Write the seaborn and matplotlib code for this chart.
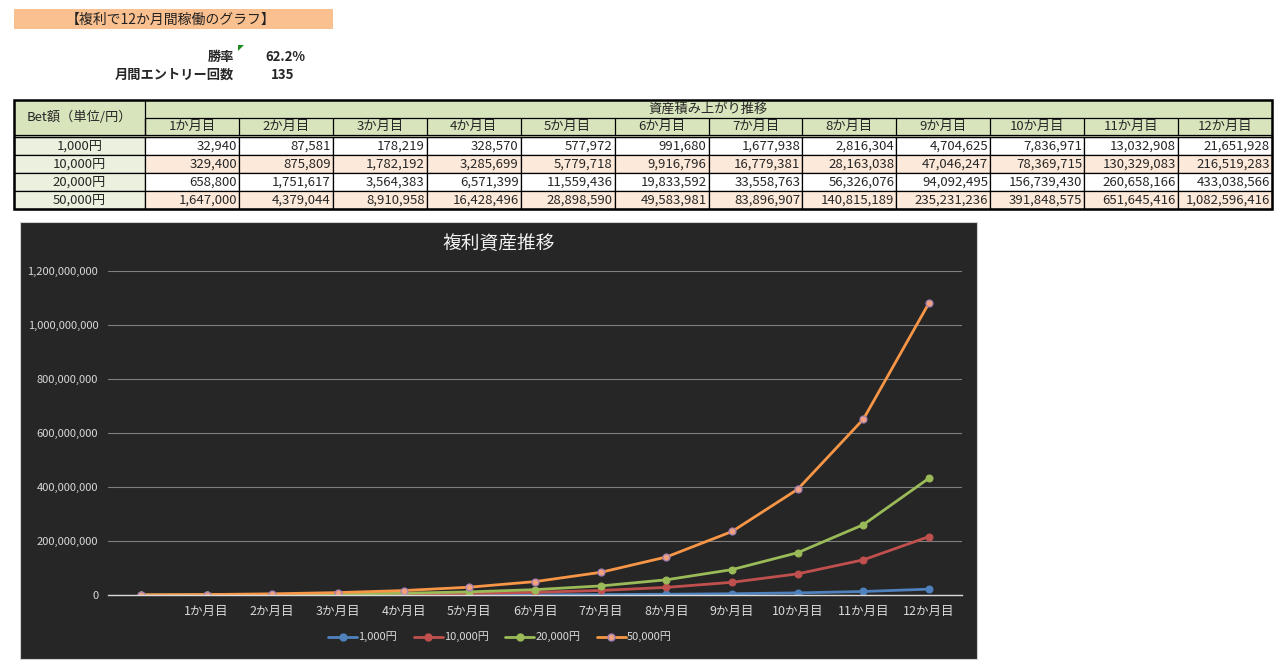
import numpy as np
import pandas as pd
import seaborn as sns
import matplotlib
matplotlib.use('agg')
import matplotlib.pyplot as plt
from matplotlib.patches import Rectangle, Polygon
from matplotlib.lines import Line2D
from matplotlib.ticker import FuncFormatter, MultipleLocator

# data
sheet_title = '【複利で12か月間稼働のグラフ】'
win_rate = '62.2%'
entries = '135'
months = ['1か月目', '2か月目', '3か月目', '4か月目', '5か月目', '6か月目',
          '7か月目', '8か月目', '9か月目', '10か月目', '11か月目', '12か月目']
bets = ['1,000円', '10,000円', '20,000円', '50,000円']
bet_1000 = [32940, 87581, 178219, 328570, 577972, 991680, 1677938,
            2816304, 4704625, 7836971, 13032908, 21651928]
bet_10000 = [329400, 875809, 1782192, 3285699, 5779718, 9916796, 16779381,
             28163038, 47046247, 78369715, 130329083, 216519283]
bet_20000 = [658800, 1751617, 3564383, 6571399, 11559436, 19833592, 33558763,
             56326076, 94092495, 156739430, 260658166, 433038566]
bet_50000 = [1647000, 4379044, 8910958, 16428496, 28898590, 49583981, 83896907,
             140815189, 235231236, 391848575, 651645416, 1082596416]
start_value = 0  # first (unlabelled) point of the chart
series = [bet_1000, bet_10000, bet_20000, bet_50000]
colors = ['#4F81BD', '#C0504D', '#9BBB59', '#F79646']

sns.set_style('white')
plt.rcParams['font.family'] = ['Noto Sans CJK JP', 'DejaVu Sans']

W, H = 1282, 665
fig = plt.figure(figsize=(W / 100, H / 100), dpi=100)

# sheet layer in pixel coords
sh = fig.add_axes([0, 0, 1, 1])
sh.set_xlim(0, W)
sh.set_ylim(H, 0)
sh.axis('off')

# title bar and summary cells
sh.add_patch(Rectangle((14, 9), 319, 20, facecolor='#FAC090', edgecolor='none'))
sh.text(66, 19.5, sheet_title, fontsize=10, va='center', ha='left', color='#222222')
sh.text(234, 57, '勝率', fontsize=9.5, fontweight='bold', ha='right', va='center')
sh.text(265, 57, win_rate, fontsize=9.5, fontweight='bold', ha='left', va='center')
sh.add_patch(Polygon([[238, 45], [244, 45], [238, 51]], facecolor='#1E8C1E', edgecolor='none'))
sh.text(234, 75, '月間エントリー回数', fontsize=9.5, fontweight='bold', ha='right', va='center')
sh.text(271, 75, entries, fontsize=9.5, fontweight='bold', ha='left', va='center')

# table
x0, x1, xr = 14, 145, 1272
cw = (xr - x1) / len(months)
y_top, y_h1, y_h2 = 100, 117.5, 134.5
row_top = 137
rh = 18
green_hdr = '#D8E4BC'
green_col = '#EBF1DE'
pink = '#FDE9D9'
lw_in = 0.9

sh.add_patch(Rectangle((x0, y_top), xr - x0, row_top - y_top, facecolor=green_hdr, edgecolor='none'))
sh.text((x0 + x1) / 2, (y_top + y_h2) / 2, 'Bet額（単位/円）', fontsize=9.5, ha='center', va='center')
sh.text((x1 + xr) / 2, (y_top + y_h1) / 2, '資産積み上がり推移', fontsize=9.5, ha='center', va='center')
sh.plot([x1, xr], [y_h1, y_h1], color='black', lw=lw_in)
for j, m in enumerate(months):
    cx = x1 + j * cw
    sh.text(cx + cw / 2, (y_h1 + y_h2) / 2 + 0.5, m, fontsize=9.5, ha='center', va='center')
    sh.plot([cx, cx], [y_h1, y_h2], color='black', lw=lw_in)
sh.plot([x1, x1], [y_top, y_h2], color='black', lw=lw_in)
sh.plot([x0, xr], [y_h2, y_h2], color='black', lw=lw_in)
sh.plot([x0, xr], [row_top, row_top], color='black', lw=lw_in)

for i, (b, vals) in enumerate(zip(bets, series)):
    yt = row_top + i * rh
    yc = yt + rh / 2
    sh.add_patch(Rectangle((x0, yt), x1 - x0, rh, facecolor=green_col, edgecolor='black', lw=lw_in))
    sh.text((x0 + x1) / 2, yc, b, fontsize=9.5, ha='center', va='center')
    fc = pink if i % 2 == 1 else 'white'
    for j, v in enumerate(vals):
        cx = x1 + j * cw
        sh.add_patch(Rectangle((cx, yt), cw, rh, facecolor=fc, edgecolor='black', lw=lw_in))
        sh.text(cx + cw - 2, yc, f'{v:,}', fontsize=9.5, ha='right', va='center')

sh.add_patch(Rectangle((x0, y_top), xr - x0, row_top + 4 * rh - y_top, facecolor='none',
                       edgecolor='black', lw=1.8))

# chart background
sh.add_patch(Rectangle((20, 222), 957, 437, facecolor='#262626', edgecolor='#D0D0D0', lw=0.8))
fig.text(499 / W, 1 - 243 / H, '複利資産推移', fontsize=13.5, color='#F2F2F2', ha='center', va='center')

# chart
rows = []
for b, vals in zip(bets, series):
    for k, v in enumerate([start_value] + vals):
        rows.append({'bet': b, 'month': k, 'value': v})
df = pd.DataFrame(rows)

ax = fig.add_axes([108 / W, 1 - 595 / H, (962 - 108) / W, (595 - 271) / H])
ax.set_facecolor('none')
sns.lineplot(data=df, x='month', y='value', hue='bet', hue_order=bets, palette=colors,
             marker='o', markersize=5, linewidth=2, legend=False, ax=ax)
for ln, c in zip(ax.lines, colors):
    ln.set_markeredgecolor(c)
    ln.set_solid_capstyle('round')
ax.lines[3].set_markerfacecolor('#F0A07C')
ax.lines[3].set_markeredgecolor('#A07FB4')
ax.lines[3].set_markeredgewidth(0.9)

ax.set_xlim(-0.5, 12.5)
ax.set_ylim(0, 1.2e9)
ax.yaxis.set_major_locator(MultipleLocator(2e8))
ax.yaxis.set_major_formatter(FuncFormatter(lambda v, p: f'{v:,.0f}'))
ax.set_xticks(range(len(months) + 1))
ax.set_xticklabels([''] + months)
ax.tick_params(axis='y', length=0, pad=7, labelsize=8, labelcolor='#D9D9D9')
ax.tick_params(axis='x', length=0, pad=7, labelsize=9, labelcolor='#D9D9D9')
ax.set_xlabel('')
ax.set_ylabel('')
ax.grid(axis='y', color='#7F7F7F', lw=0.8)
ax.grid(axis='x', visible=False)
ax.set_axisbelow(True)
for s in ['top', 'left', 'right']:
    ax.spines[s].set_visible(False)
ax.spines['bottom'].set_color('#D9D9D9')
ax.spines['bottom'].set_linewidth(1)

handles = []
for i, c in enumerate(colors):
    mfc = '#F0A07C' if i == 3 else c
    mec = '#A07FB4' if i == 3 else c
    handles.append(Line2D([], [], color=c, lw=2, marker='o', markersize=5,
                          markerfacecolor=mfc, markeredgecolor=mec))
fig.legend(handles, bets, loc='center', bbox_to_anchor=(500 / W, 1 - 637 / H), ncol=4,
           frameon=False, fontsize=8, labelcolor='#D9D9D9', handlelength=2.6,
           handletextpad=0.1, columnspacing=1.5)

fig.savefig('out.png', dpi=100)
